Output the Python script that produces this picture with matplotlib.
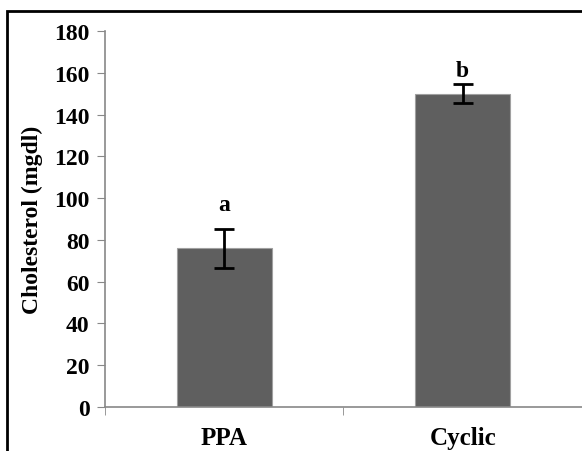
import matplotlib.pyplot as plt
from matplotlib.patches import Rectangle
import numpy as np

groups = ['PPA', 'Cyclic']
cholesterol = [76, 150]
errors = [9.4, 4.4]
letters = ['a', 'b']
letter_y = [97, 161]
y_ticks = [0, 20, 40, 60, 80, 100, 120, 140, 160, 180]

plt.rcParams['font.family'] = ['Liberation Serif', 'DejaVu Serif']
plt.rcParams['font.weight'] = 'bold'

fig = plt.figure(figsize=(5.82, 4.52), dpi=100)
ax = fig.add_axes([0.1804, 0.0973, 0.8196, 0.8319])

x = np.arange(len(groups))
ax.bar(x, cholesterol, width=0.4, color='#5f5f5f', edgecolor='#a0a0a0', linewidth=0.8, zorder=2)
ax.errorbar(x, cholesterol, yerr=errors, fmt='none', ecolor='black', elinewidth=2,
            capsize=7, capthick=2, zorder=3)
for xi, ly, lab in zip(x, letter_y, letters):
    ax.text(xi, ly, lab, ha='center', va='center', fontsize=17, fontweight='bold')

ax.set_xlim(-0.5, 1.5)
ax.set_ylim(0, 180)
ax.set_yticks(y_ticks)
ax.set_yticklabels([str(t) for t in y_ticks], fontsize=17, fontweight='bold')
ax.set_xticks(x)
ax.set_xticklabels(groups, fontsize=18, fontweight='bold')
ax.tick_params(axis='x', length=0, pad=14)
ax.set_xticks([-0.5, 0.5, 1.5], minor=True)
ax.tick_params(axis='x', which='minor', length=6, color='#888888', direction='out')
ax.tick_params(axis='y', length=6, color='#888888', pad=5)
ax.set_ylabel('Cholesterol (mgdl)', fontsize=17, fontweight='bold', labelpad=8)

for side in ['top', 'right']:
    ax.spines[side].set_visible(False)
for side in ['left', 'bottom']:
    ax.spines[side].set_color('#888888')
    ax.spines[side].set_linewidth(1.2)

# outer frame, cut off at the right and bottom edges
fig.patches.append(Rectangle((7 / 582, -0.1), 1.2, 1 - 12 / 452 + 0.1, transform=fig.transFigure,
                             fill=False, edgecolor='black', linewidth=2))

fig.savefig('out.png', dpi=100)
